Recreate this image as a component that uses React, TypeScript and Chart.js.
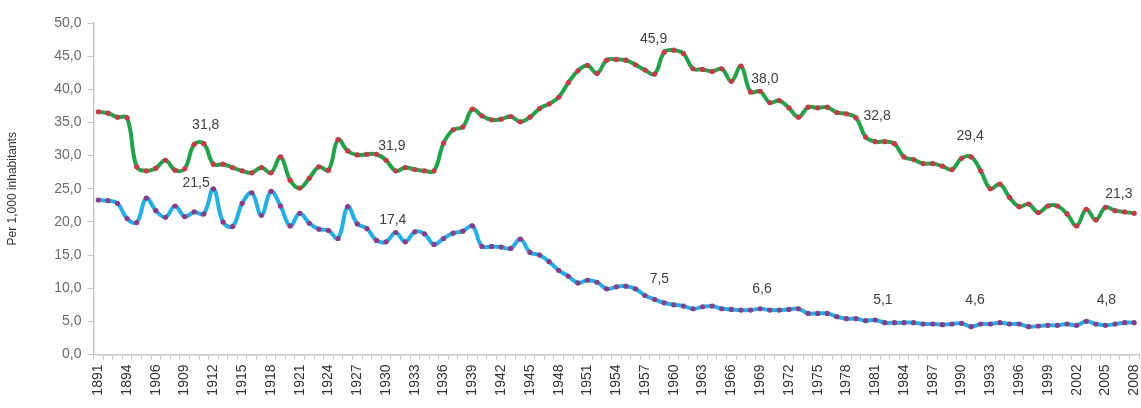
import React, { useEffect, useRef } from "react";
import { Chart, registerables } from "chart.js";

Chart.register(...registerables);

const years: string[] = [
  "1891", "1892", "1893", "1894",
  ...Array.from({ length: 105 }, (_, i) => String(1904 + i)),
];

const birthRate: number[] = [
  36.6, 36.4, 35.8, 35.7, 28.3, 27.7, 28.1, 29.3, 27.8, 28.0,
  31.7, 31.8, 28.7, 28.7, 28.2, 27.7, 27.4, 28.2, 27.4, 29.8,
  26.3, 25.1, 26.6, 28.3, 27.8, 32.4, 30.7, 30.1, 30.2, 30.2,
  29.3, 27.7, 28.2, 27.9, 27.7, 27.7, 31.9, 33.9, 34.3, 37.0,
  36.0, 35.4, 35.5, 35.9, 35.1, 35.8, 37.1, 37.8, 38.8, 41.0,
  42.8, 43.6, 42.4, 44.4, 44.5, 44.4, 43.7, 42.9, 42.3, 45.6,
  45.9, 45.4, 43.1, 43.0, 42.7, 43.1, 41.2, 43.5, 39.6, 39.7,
  38.0, 38.3, 37.2, 35.8, 37.3, 37.2, 37.3, 36.5, 36.3, 35.7,
  32.8, 32.1, 32.1, 31.8, 29.8, 29.4, 28.8, 28.8, 28.4, 27.9,
  29.6, 29.8, 27.7, 25.0, 25.7, 23.7, 22.3, 22.7, 21.4, 22.4,
  22.4, 21.2, 19.4, 21.9, 20.3, 22.2, 21.7, 21.5, 21.3,
];

const deathRate: number[] = [
  23.3, 23.2, 22.8, 20.5, 19.9, 23.6, 21.7, 20.7, 22.4, 20.8,
  21.5, 21.2, 25.0, 20.0, 19.3, 22.8, 24.4, 21.0, 24.6, 22.4,
  19.4, 21.3, 19.8, 18.9, 18.7, 17.5, 22.3, 19.7, 19.0, 17.2,
  17.0, 18.4, 17.0, 18.5, 18.2, 16.6, 17.5, 18.3, 18.6, 19.4,
  16.3, 16.3, 16.2, 16.0, 17.4, 15.4, 15.0, 14.0, 12.7, 11.8,
  10.8, 11.2, 10.9, 9.9, 10.2, 10.3, 9.9, 8.9, 8.3, 7.8,
  7.5, 7.3, 6.9, 7.2, 7.3, 6.9, 6.8, 6.7, 6.7, 6.9,
  6.7, 6.7, 6.8, 6.9, 6.2, 6.2, 6.2, 5.7, 5.4, 5.4,
  5.1, 5.2, 4.8, 4.8, 4.8, 4.8, 4.6, 4.6, 4.5, 4.6,
  4.7, 4.2, 4.6, 4.6, 4.8, 4.6, 4.6, 4.2, 4.3, 4.4,
  4.4, 4.6, 4.4, 5.0, 4.6, 4.4, 4.6, 4.8, 4.8,
];

// Annotation texts with their anchor (category index, value)
const noteTexts: string[] = ["31,8", "21,5", "31,9", "17,4", "45,9", "38,0", "7,5", "6,6", "32,8", "29,4", "21,3", "5,1", "4,6", "4,8"];
const noteIndex: number[] = [11.2, 10.2, 30.6, 30.7, 57.9, 69.5, 58.5, 69.2, 81.2, 90.9, 106.4, 81.8, 91.4, 105.1];
const noteValue: number[] = [34.6, 25.9, 31.4, 20.2, 47.5, 41.5, 11.3, 9.9, 35.9, 33.0, 24.2, 8.2, 8.2, 8.2];

const fmt = (v: number) => v.toFixed(1).replace(".", ",");

const notesPlugin = {
  id: "notes",
  afterDatasetsDraw(chart: any) {
    const { ctx, scales } = chart;
    ctx.save();
    ctx.font = "14px 'Liberation Sans', Arial, sans-serif";
    ctx.fillStyle = "#404040";
    ctx.textAlign = "center";
    ctx.textBaseline = "middle";
    noteTexts.forEach((t, i) => {
      const x = scales.x.getPixelForValue(noteIndex[i]);
      const y = scales.y.getPixelForValue(noteValue[i]);
      ctx.fillText(t, x, y);
    });
    ctx.restore();
  },
};

export default function App() {
  const ref = useRef<HTMLCanvasElement>(null);
  useEffect(() => {
    if (!ref.current) return;
    const chart = new Chart(ref.current, {
      type: "line",
      data: {
        labels: years,
        datasets: [
          {
            label: "Birth rate",
            data: birthRate,
            borderColor: "#1ea548",
            borderWidth: 4,
            tension: 0.4,
            pointRadius: 2.6,
            pointBorderWidth: 0,
            pointBackgroundColor: "#cf3447",
          },
          {
            label: "Death rate",
            data: deathRate,
            borderColor: "#1eb0e8",
            borderWidth: 4,
            tension: 0.4,
            pointRadius: 2.6,
            pointBorderWidth: 0,
            pointBackgroundColor: "#8e3a86",
          },
        ],
      },
      options: {
        responsive: false,
        animation: false,
        layout: { padding: { top: 23, right: 0, left: 0, bottom: 0 } },
        plugins: { legend: { display: false }, tooltip: { enabled: false } },
        scales: {
          x: {
            offset: true,
            grid: {
              offset: true,
              drawOnChartArea: false,
              drawTicks: true,
              tickLength: 5,
              color: "#c8c8c8",
            },
            border: { color: "#c8c8c8", width: 1.5 },
            ticks: {
              autoSkip: false,
              maxRotation: 90,
              minRotation: 90,
              padding: 5,
              color: "#333333",
              font: { family: "'Liberation Sans', Arial, sans-serif", size: 14 },
              callback: (_v: any, i: number) => (i % 3 === 0 ? years[i] : ""),
            },
            afterFit: (s: any) => {
              s.height = 53.5;
              s.paddingLeft = 0;
              s.paddingRight = 0;
            },
          },
          y: {
            min: 0,
            max: 50,
            grid: {
              drawOnChartArea: false,
              drawTicks: true,
              tickLength: 6,
              color: "#c8c8c8",
            },
            border: { color: "#c8c8c8", width: 1.5 },
            ticks: {
              stepSize: 5,
              padding: 6,
              color: "#6b6b6b",
              font: { family: "'Liberation Sans', Arial, sans-serif", size: 14 },
              callback: (v: any) => fmt(Number(v)),
            },
            title: {
              display: true,
              text: "Per 1,000 inhabitants",
              color: "#333333",
              font: { family: "'Liberation Sans', Arial, sans-serif", size: 12 },
              padding: { top: 5, bottom: 0 },
            },
            afterFit: (s: any) => {
              s.width = 93.5;
              s.paddingTop = 0;
              s.paddingBottom = 0;
            },
          },
        },
      },
      plugins: [notesPlugin],
    });
    return () => chart.destroy();
  }, []);
  return (
    <div
      style={{
        position: "fixed",
        left: 0,
        top: 0,
        width: 1141,
        height: 408,
        overflow: "hidden",
        background: "#ffffff",
      }}
    >
      <canvas ref={ref} width={1143} height={408} style={{ display: "block" }} />
    </div>
  );
}
